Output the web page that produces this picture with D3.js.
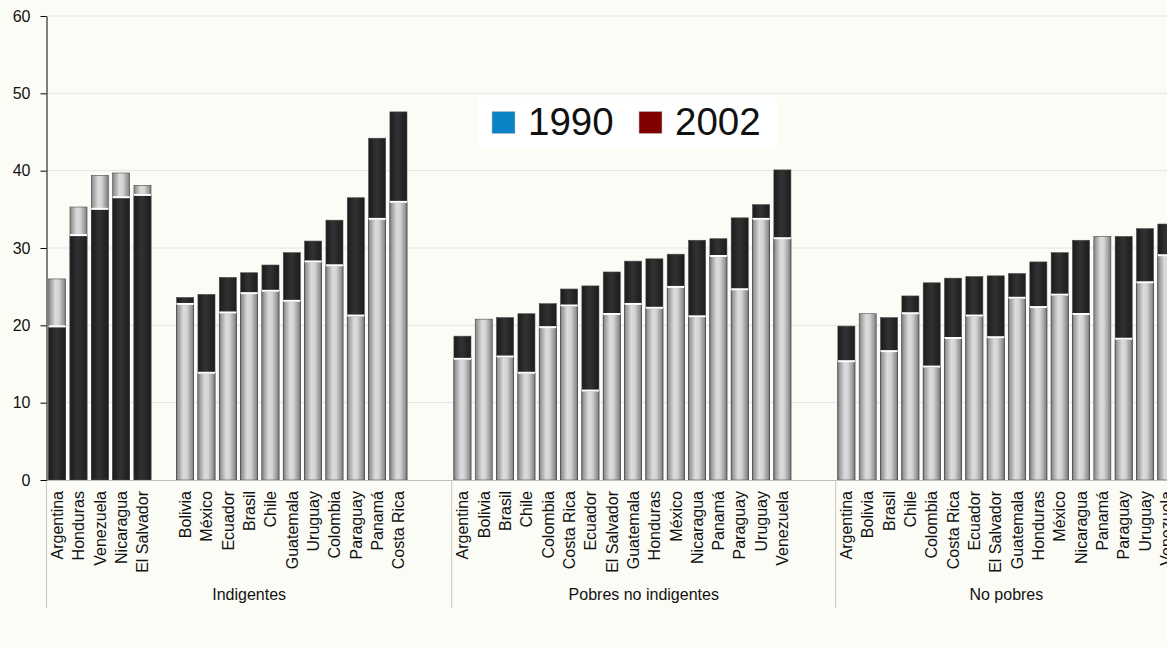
<!DOCTYPE html>
<html>
<head>
<meta charset="utf-8">
<script src="https://cdn.jsdelivr.net/npm/d3@7"></script>
<style>
  body { margin: 0; background: #fcfcf7; overflow: hidden; }
  text { font-family: Arial, "Liberation Sans", sans-serif; fill: #111; }
</style>
</head>
<body>
<div id="container"></div>
<script>
// groups of the x axis
var groups = ["Indigentes", "Pobres no indigentes", "No pobres"]

// Indigentes (first five drawn apart, then a gap)
var indigCatsA = ["Argentina", "Honduras", "Venezuela", "Nicaragua", "El Salvador"]
var indigGreyA = [26.0, 35.3, 39.4, 39.7, 38.1]
var indigDarkA = [19.8, 31.6, 35.0, 36.5, 36.8]

var indigCatsB = ["Bolivia", "México", "Ecuador", "Brasil", "Chile", "Guatemala", "Uruguay", "Colombia", "Paraguay", "Panamá", "Costa Rica"]
var indigGreyB = [22.7, 13.8, 21.6, 24.1, 24.4, 23.1, 28.2, 27.7, 21.2, 33.7, 35.9]
var indigDarkB = [23.6, 24.0, 26.2, 26.8, 27.8, 29.4, 30.9, 33.6, 36.5, 44.2, 47.6]

// Pobres no indigentes
var pobresCats = ["Argentina", "Bolivia", "Brasil", "Chile", "Colombia", "Costa Rica", "Ecuador", "El Salvador", "Guatemala", "Honduras", "México", "Nicaragua", "Panamá", "Paraguay", "Uruguay", "Venezuela"]
var pobresGrey = [15.6, 20.8, 15.9, 13.8, 19.7, 22.5, 11.5, 21.4, 22.7, 22.2, 24.9, 21.1, 28.9, 24.6, 33.7, 31.2]
var pobresDark = [18.6, null, 21.0, 21.5, 22.8, 24.7, 25.1, 26.9, 28.3, 28.6, 29.2, 31.0, 31.2, 33.9, 35.6, 40.1]

// No pobres
var noPobresCats = ["Argentina", "Bolivia", "Brasil", "Chile", "Colombia", "Costa Rica", "Ecuador", "El Salvador", "Guatemala", "Honduras", "México", "Nicaragua", "Panamá", "Paraguay", "Uruguay", "Venezuela"]
var noPobresGrey = [15.3, 21.5, 16.6, 21.5, 14.6, 18.3, 21.2, 18.4, 23.5, 22.3, 23.9, 21.4, 31.5, 18.2, 25.5, 29.0]
var noPobresDark = [19.9, null, 21.0, 23.8, 25.5, 26.1, 26.3, 26.4, 26.7, 28.2, 29.4, 31.0, null, 31.5, 32.5, 33.1]

var yTicks = [0, 10, 20, 30, 40, 50, 60]
var legendLabels = ["1990", "2002"]
var legendColors = ["#0a82c6", "#800000"]

width = 1167;
height = 647;

// build the slot list (bars + empty spacer slots)
var slots = []
var bars = []
function addBars(g, cats, grey, dark) {
  cats.forEach(function(c, i) {
    var key = g + "|" + slots.length
    slots.push(key)
    bars.push({ key: key, cat: c, grey: grey[i], dark: dark[i] })
  })
}
function addGap(n) {
  for (var i = 0; i < n; i++) slots.push("gap" + slots.length)
}
var groupSpans = []
var s0 = slots.length
addBars(0, indigCatsA, indigGreyA, indigDarkA)
addGap(1)
addBars(0, indigCatsB, indigGreyB, indigDarkB)
addGap(2)
groupSpans.push([s0, slots.length]); s0 = slots.length
addBars(1, pobresCats, pobresGrey, pobresDark)
addGap(2)
groupSpans.push([s0, slots.length]); s0 = slots.length
addBars(2, noPobresCats, noPobresGrey, noPobresDark)
groupSpans.push([s0, slots.length])

var plotLeft = 46.5, plotRight = 1177, plotTop = 16, plotBottom = 480

var x = d3.scaleBand().domain(slots).range([plotLeft, plotRight]).paddingInner(0.2).paddingOuter(0.1)
var slotStart = function(i) { return plotLeft + i * (plotRight - plotLeft) / slots.length }
var y = d3.scaleLinear().domain([0, 60]).range([plotBottom, plotTop])

var svg = d3.select("#container").append('svg')
    .attr('width', width)
    .attr('height', height)

svg.append('rect').attr('width', width).attr('height', height).attr('fill', '#fcfcf7')

var defs = svg.append('defs')
var gg = defs.append('linearGradient').attr('id', 'greyGrad')
gg.selectAll('stop')
  .data([[0, '#7e7e7e'], [0.12, '#a0a0a0'], [0.4, '#dcdcdc'], [0.6, '#d4d4d4'], [0.88, '#989898'], [1, '#767676']])
  .enter().append('stop')
    .attr('offset', (d) => d[0])
    .attr('stop-color', (d) => d[1])
var dg = defs.append('linearGradient').attr('id', 'darkGrad')
dg.selectAll('stop')
  .data([[0, '#1a1a1a'], [0.45, '#323232'], [1, '#1c1c1c']])
  .enter().append('stop')
    .attr('offset', (d) => d[0])
    .attr('stop-color', (d) => d[1])

// gridlines
svg.append('g').selectAll('line')
  .data(yTicks.filter((d) => d > 0))
  .enter().append('line')
    .attr('x1', plotLeft).attr('x2', width)
    .attr('y1', (d) => y(d)).attr('y2', (d) => y(d))
    .attr('stroke', '#e2e2e2')

// bars: the taller value goes behind, the shorter in front
var barG = svg.append('g').selectAll('g')
  .data(bars)
  .enter().append('g')

barG.each(function(d) {
  var parts = [{ v: d.grey, fill: 'url(#greyGrad)' }]
  if (d.dark != null) parts.push({ v: d.dark, fill: 'url(#darkGrad)' })
  parts.sort((a, b) => b.v - a.v)
  var sel = d3.select(this)
  parts.forEach(function(p, i) {
    sel.append('rect')
      .attr('x', x(d.key))
      .attr('y', y(p.v))
      .attr('width', x.bandwidth())
      .attr('height', plotBottom - y(p.v))
      .attr('fill', p.fill)
      .attr('stroke', '#4a4a4a')
      .attr('stroke-width', 0.6)
    if (i > 0) {
      sel.append('line')
        .attr('x1', x(d.key)).attr('x2', x(d.key) + x.bandwidth())
        .attr('y1', y(p.v) - 0.5).attr('y2', y(p.v) - 0.5)
        .attr('stroke', '#fff').attr('stroke-width', 2)
    }
  })
})

// x axis line and group dividers
svg.append('line')
  .attr('x1', plotLeft).attr('x2', width)
  .attr('y1', plotBottom + 0.5).attr('y2', plotBottom + 0.5)
  .attr('stroke', '#bdbdbd')

svg.append('g').selectAll('line')
  .data(groupSpans)
  .enter().append('line')
    .attr('x1', (d) => slotStart(d[0])).attr('x2', (d) => slotStart(d[0]))
    .attr('y1', plotBottom).attr('y2', 608)
    .attr('stroke', '#c6c6c6')

// category labels
svg.append('g').selectAll('text')
  .data(bars)
  .enter().append('text')
    .attr('transform', (d) => 'translate(' + (x(d.key) + x.bandwidth() / 2) + ',' + 491 + ') rotate(-90)')
    .attr('dy', '0.36em')
    .attr('text-anchor', 'end')
    .attr('font-size', 16)
    .text((d) => d.cat)

// group labels
svg.append('g').selectAll('text')
  .data(groups)
  .enter().append('text')
    .attr('x', (d, i) => (slotStart(groupSpans[i][0]) + slotStart(groupSpans[i][1])) / 2)
    .attr('y', 600)
    .attr('text-anchor', 'middle')
    .attr('font-size', 16)
    .text((d) => d)

// y axis
var yAxis = svg.append('g')
    .attr('transform', 'translate(' + plotLeft + ',0)')
    .call(d3.axisLeft(y).tickValues(yTicks).tickSize(6).tickSizeOuter(0).tickPadding(10))
yAxis.select('.domain').attr('stroke', '#000')
yAxis.selectAll('.tick line').attr('stroke', '#000')
yAxis.selectAll('.tick text')
    .attr('font-size', 16)
    .attr('font-family', 'Arial, "Liberation Sans", sans-serif')
    .attr('fill', '#111')

// legend
var lg = svg.append('g')
lg.append('rect')
  .attr('x', 478).attr('y', 97).attr('width', 299).attr('height', 51)
  .attr('fill', '#fff')
var legendX = [492, 639]
legendLabels.forEach(function(l, i) {
  lg.append('rect')
    .attr('x', legendX[i]).attr('y', 111.5)
    .attr('width', 23).attr('height', 22)
    .attr('fill', legendColors[i])
    .attr('stroke', '#bbb').attr('stroke-width', 0.6)
  lg.append('text')
    .attr('x', legendX[i] + 36).attr('y', 135)
    .attr('font-size', 38.5)
    .text(l)
})
</script>
</body>
</html>
